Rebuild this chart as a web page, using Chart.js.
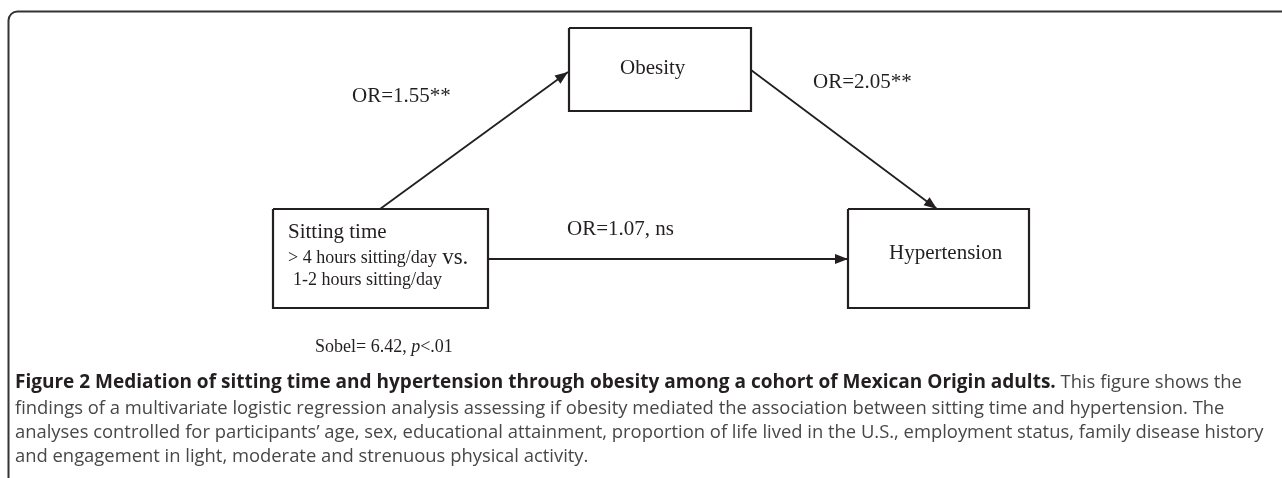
<!DOCTYPE html>
<html><head><meta charset="utf-8">
<script src="https://cdn.jsdelivr.net/npm/chart.js@4.4.0/dist/chart.umd.min.js"></script>
<style>html,body{margin:0;padding:0;background:#fff;overflow:hidden;} canvas{display:block;}</style>
</head><body>
<canvas id="c" width="1282" height="478"></canvas>
<script>
// ---- Diagram data (data units on hidden linear axes) ----
const nodeNames  = ['Obesity', 'Sitting time', 'Hypertension'];
const nodeLeft   = [569, 273, 848];
const nodeRight  = [751, 488, 1029];
const nodeTop    = [28, 209, 209];
const nodeBottom = [111, 308, 308];
const nodeLabelX = [620, 288, 889];
const nodeLabelY = [68, 232, 253];

const sittingDetail  = ['> 4 hours sitting/day', '1-2 hours sitting/day'];
const sittingDetailX = [288, 293];
const sittingDetailY = [258, 280];

const pathLabels = ['OR=1.55**', 'OR=2.05**', 'OR=1.07, ns'];
const pathFromX  = [380, 751, 488];
const pathFromY  = [209, 70, 259];
const pathToX    = [568, 937, 848];
const pathToY    = [72, 209, 259];
const pathLabelX = [352, 813, 567];
const pathLabelY = [96, 82, 229];

const sobelText = ['Sobel= 6.42, ', 'p', '<.01'];
const sobelX = 315, sobelY = 347;

const captionBold = 'Figure 2 Mediation of sitting time and hypertension through obesity among a cohort of Mexican Origin adults.';
const captionLines = [
  ' This figure shows the',
  'findings of a multivariate logistic regression analysis assessing if obesity mediated the association between sitting time and hypertension. The',
  'analyses controlled for participants\u2019 age, sex, educational attainment, proportion of life lived in the U.S., employment status, family disease history',
  'and engagement in light, moderate and strenuous physical activity.'
];
const captionY = [383, 409, 433, 457];
const captionX = 15;
const captionBoldEnd = 1056;   // where the bold title ends
const captionLine3End = 1264;  // where the widest plain line ends

const INK = '#231f20';
const SERIF = '"Liberation Serif", "Times New Roman", serif';
const SANS = '"Open Sans", "Noto Sans", sans-serif';

const datasets = [];
nodeNames.forEach((n, i) => {
  datasets.push({
    label: n,
    data: [
      {x: nodeLeft[i], y: nodeTop[i]}, {x: nodeRight[i], y: nodeTop[i]},
      {x: nodeRight[i], y: nodeBottom[i]}, {x: nodeLeft[i], y: nodeBottom[i]},
      {x: nodeLeft[i], y: nodeTop[i]}
    ],
    showLine: true, borderColor: INK, borderWidth: 2.2, pointRadius: 0,
    borderJoinStyle: 'miter', fill: false, tension: 0
  });
});
pathLabels.forEach((p, i) => {
  datasets.push({
    label: p, isArrow: true,
    data: [{x: pathFromX[i], y: pathFromY[i]}, {x: pathToX[i], y: pathToY[i]}],
    showLine: true, borderColor: INK, borderWidth: 1.8, pointRadius: 0, fill: false
  });
});

function fitSize(ctx, weight, family, text, target) {
  ctx.font = weight + ' 100px ' + family;
  return 100 * target / ctx.measureText(text).width;
}

const diagramPlugin = {
  id: 'diagram',
  beforeDraw(chart) {
    const ctx = chart.ctx;
    ctx.save();
    ctx.fillStyle = '#fff';
    ctx.fillRect(0, 0, chart.width, chart.height);
    const xs = chart.scales.x, ys = chart.scales.y;
    const fx = xs.getPixelForValue(8.5), fy = ys.getPixelForValue(11.5), r = 9;
    ctx.strokeStyle = '#333';
    ctx.lineWidth = 2;
    ctx.beginPath();
    ctx.moveTo(fx, ys.getPixelForValue(478));
    ctx.lineTo(fx, fy + r);
    ctx.arcTo(fx, fy, fx + r, fy, r);
    ctx.lineTo(xs.getPixelForValue(1282), fy);
    ctx.stroke();
    ctx.restore();
  },
  afterDatasetsDraw(chart) {
    const ctx = chart.ctx;
    const xs = chart.scales.x, ys = chart.scales.y;
    const px = v => xs.getPixelForValue(v), py = v => ys.getPixelForValue(v);
    ctx.save();
    chart.data.datasets.forEach(ds => {
      if (!ds.isArrow) return;
      const a = ds.data[0], b = ds.data[1];
      const x1 = px(a.x), y1 = py(a.y), x2 = px(b.x), y2 = py(b.y);
      const ang = Math.atan2(y2 - y1, x2 - x1);
      const L = 13, W = 5;
      ctx.fillStyle = INK;
      ctx.beginPath();
      ctx.moveTo(x2, y2);
      ctx.lineTo(x2 - L * Math.cos(ang) + W * Math.sin(ang), y2 - L * Math.sin(ang) - W * Math.cos(ang));
      ctx.lineTo(x2 - L * Math.cos(ang) - W * Math.sin(ang), y2 - L * Math.sin(ang) + W * Math.cos(ang));
      ctx.closePath();
      ctx.fill();
    });
    ctx.fillStyle = INK;
    ctx.textBaseline = 'middle';
    ctx.textAlign = 'left';
    ctx.font = '21px ' + SERIF;
    nodeNames.forEach((n, i) => ctx.fillText(n, px(nodeLabelX[i]), py(nodeLabelY[i])));
    ctx.font = '18px ' + SERIF;
    sittingDetail.forEach((t, i) => ctx.fillText(t, px(sittingDetailX[i]), py(sittingDetailY[i])));
    const w0 = ctx.measureText(sittingDetail[0] + ' ').width;
    ctx.font = '23px ' + SERIF;
    ctx.fillText('vs.', px(sittingDetailX[0]) + w0 + 1, py(sittingDetailY[0]));
    ctx.font = '21px ' + SERIF;
    pathLabels.forEach((t, i) => ctx.fillText(t, px(pathLabelX[i]), py(pathLabelY[i])));
    ctx.font = '18px ' + SERIF;
    let sx = px(sobelX);
    ctx.fillText(sobelText[0], sx, py(sobelY)); sx += ctx.measureText(sobelText[0]).width;
    ctx.font = 'italic 18px ' + SERIF;
    ctx.fillText(sobelText[1], sx, py(sobelY)); sx += ctx.measureText(sobelText[1]).width;
    ctx.font = '18px ' + SERIF;
    ctx.fillText(sobelText[2], sx, py(sobelY));
    // caption, sized to the reference line lengths
    const cx = px(captionX);
    const boldSize = fitSize(ctx, 'bold', SANS, captionBold, px(captionBoldEnd) - cx);
    const normSize = fitSize(ctx, 'normal', SANS, captionLines[2], px(captionLine3End) - cx);
    ctx.font = 'bold ' + boldSize.toFixed(2) + 'px ' + SANS;
    ctx.fillStyle = '#231f20';
    ctx.fillText(captionBold, cx, py(captionY[0]));
    const bw = ctx.measureText(captionBold).width;
    ctx.font = normSize.toFixed(2) + 'px ' + SANS;
    ctx.fillStyle = '#474747';
    ctx.fillText(captionLines[0], cx + bw, py(captionY[0]));
    for (let i = 1; i < captionLines.length; i++) {
      ctx.fillText(captionLines[i], cx, py(captionY[i]));
    }
    ctx.restore();
  }
};

new Chart(document.getElementById('c'), {
  type: 'scatter',
  data: { datasets },
  options: {
    responsive: false, animation: false, devicePixelRatio: 1,
    events: [],
    layout: { padding: 0 },
    plugins: { legend: { display: false }, tooltip: { enabled: false }, title: { display: false } },
    scales: {
      x: { type: 'linear', min: 0, max: 1282, display: false },
      y: { type: 'linear', min: 0, max: 478, reverse: true, display: false }
    }
  },
  plugins: [diagramPlugin]
});
</script>
</body></html>
